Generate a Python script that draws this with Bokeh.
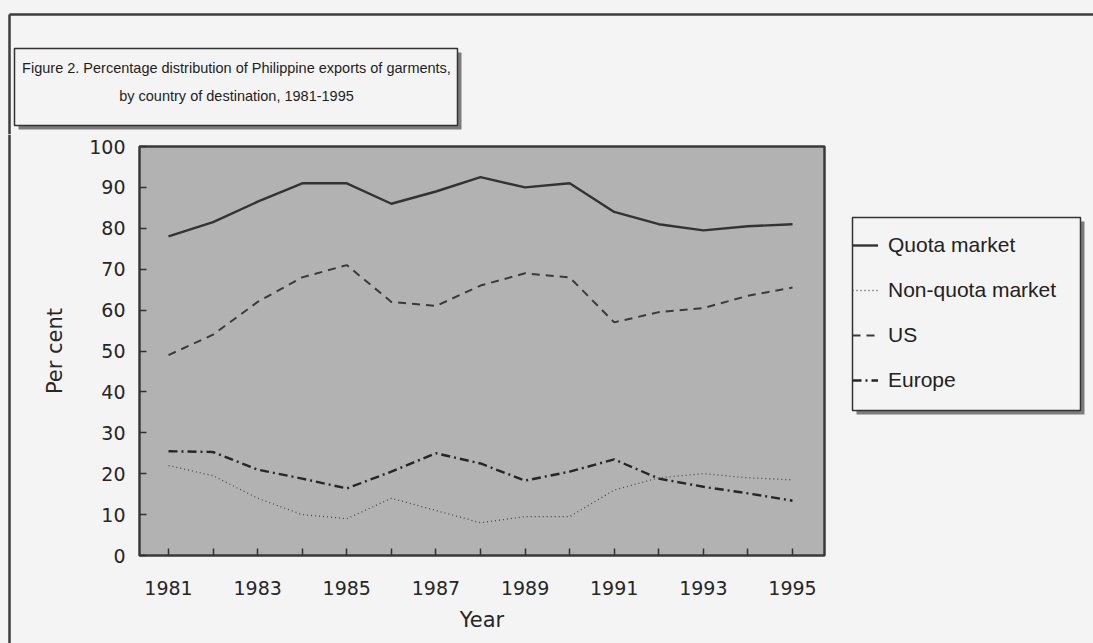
from bokeh.plotting import figure
from bokeh.layouts import column, row
from bokeh.models import Range1d, FixedTicker, Legend, LegendItem
from bokeh.core.properties import value
from bokeh.embed import file_html
from bokeh.resources import INLINE

# ---- data ----
years = [1981, 1982, 1983, 1984, 1985, 1986, 1987, 1988, 1989, 1990, 1991, 1992, 1993, 1994, 1995]
quota_market = [78, 81.5, 86.5, 91, 91, 86, 89, 92.5, 90, 91, 84, 81, 79.5, 80.5, 81]
non_quota_market = [22, 19.5, 14, 10, 9, 14, 11, 8, 9.5, 9.5, 16, 19, 20, 19, 18.5]
us = [49, 54, 62, 68, 71, 62, 61, 66, 69, 68, 57, 59.5, 60.5, 63.5, 65.5]
europe = [25.5, 25.3, 21, 18.8, 16.4, 20.5, 25, 22.5, 18.3, 20.5, 23.5, 18.8, 16.8, 15.2, 13.4]
y_ticks = [0, 10, 20, 30, 40, 50, 60, 70, 80, 90, 100]
x_label_years = [1981, 1983, 1985, 1987, 1989, 1991, 1993, 1995]
title_lines = ["Figure 2. Percentage distribution of Philippine exports of garments,",
               "by country of destination, 1981-1995"]
series_names = ["Quota market", "Non-quota market", "US", "Europe"]

FONT = "DejaVu Sans"
BG = "#f4f4f4"
EDGE = "#3c3c3c"
SHADOW = "#7c7c7c"
SPLIT = 134  # page y where the title strip ends

styles = [
    dict(line_color="#333333", line_width=2.4),
    dict(line_color="#4a4a4a", line_width=1.3, line_dash="1 3"),
    dict(line_color="#3a3a3a", line_width=2, line_dash="8 6"),
    dict(line_color="#262626", line_width=2.4, line_dash="9 4 2 4"),
]


def blank(w, h, xr, yr):
    f = figure(width=w, height=h, x_range=Range1d(*xr), y_range=Range1d(*yr),
               x_axis_type=None, y_axis_type=None, min_border=0, frame_align=False,
               output_backend="svg", toolbar_location=None)
    f.outline_line_color = None
    f.background_fill_color = BG
    f.border_fill_color = BG
    f.grid.visible = False
    return f


# ---- top strip: page frame + title box ----
top = blank(1093, SPLIT, (0, 1093), (SPLIT, 0))
top.segment(x0=[9, 9], y0=[14, 14], x1=[1093, 9], y1=[14, SPLIT], line_color=EDGE, line_width=2.5)
top.quad(left=[18], right=[461], top=[52], bottom=[129], fill_color=SHADOW, line_color=None)
top.quad(left=[14], right=[457], top=[48], bottom=[125], fill_color=BG,
         line_color="#333333", line_width=1.5)
top.text(x=[236, 236], y=[67, 95], text=title_lines, text_align="center",
         text_baseline="middle", text_font=value("Liberation Sans"),
         text_font_size="14.5px", text_color="#1e1e1e")

H = 643 - SPLIT

# ---- left strip: page frame ----
left = blank(20, H, (0, 20), (643, SPLIT))
left.segment(x0=[9], y0=[SPLIT], x1=[9], y1=[643], line_color=EDGE, line_width=2.5)

# ---- main chart ----
p = figure(width=820, height=H, frame_width=685, frame_height=409,
           min_border_left=119, min_border_right=16, min_border_top=146 - SPLIT,
           min_border_bottom=88, frame_align=False,
           x_range=Range1d(1980.349, 1995.718), y_range=Range1d(0, 100),
           output_backend="svg", toolbar_location=None)

p.background_fill_color = "#b2b2b2"
p.border_fill_color = BG
p.outline_line_color = "#3a3a3a"
p.outline_line_width = 2.5
p.grid.visible = False

for ax in (p.xaxis[0], p.yaxis[0]):
    ax.axis_line_color = None
    ax.major_tick_in = 7
    ax.major_tick_out = 0
    ax.minor_tick_line_color = None
    ax.major_tick_line_color = "#333333"
    ax.major_tick_line_width = 1.5
    ax.major_label_text_font = FONT
    ax.major_label_text_font_size = "19px"
    ax.major_label_text_color = "#262626"
    ax.axis_label_text_font = FONT
    ax.axis_label_text_font_size = "21px"
    ax.axis_label_text_font_style = "normal"
    ax.axis_label_text_color = "#262626"

p.xaxis.ticker = FixedTicker(ticks=years)
p.xaxis.major_label_overrides = {y: (str(y) if y in x_label_years else "") for y in years}
p.xaxis.major_label_standoff = 25
p.xaxis.axis_label = "Year"
p.xaxis.axis_label_standoff = 10

p.yaxis.ticker = FixedTicker(ticks=y_ticks)
p.yaxis.major_label_standoff = 14
p.yaxis.axis_label = "Per cent"
p.yaxis.axis_label_standoff = 19

series = [quota_market, non_quota_market, us, europe]
for vals, st in zip(series, styles):
    p.line(years, vals, **st)

# ---- right strip: legend box ----
right = blank(253, H, (840, 1093), (643, SPLIT))
right.quad(left=[856], right=[1084], top=[221], bottom=[414], fill_color=SHADOW, line_color=None)
right.quad(left=[852], right=[1080], top=[217], bottom=[410], fill_color=BG,
           line_color="#333333", line_width=1.5)
# off-screen stand-in renderers that only carry the legend line styles
dummies = [right.line(x=[-10, -5], y=[0, 0], **st) for st in styles]
legend = Legend(items=[LegendItem(label=n, renderers=[r]) for n, r in zip(series_names, dummies)],
                location=(12, 251), padding=0, margin=0, spacing=21,
                label_height=22, glyph_width=26, glyph_height=22, label_standoff=10,
                label_text_font="Liberation Sans", label_text_font_size="21px",
                label_text_color="#222222",
                background_fill_alpha=0, border_line_alpha=0)
right.add_layout(legend, "center")

layout = column(top, row(left, p, right, spacing=0, styles={"background-color": BG}),
                spacing=0, styles={"background-color": BG})
open("out.html", "w").write(file_html(layout, INLINE))
